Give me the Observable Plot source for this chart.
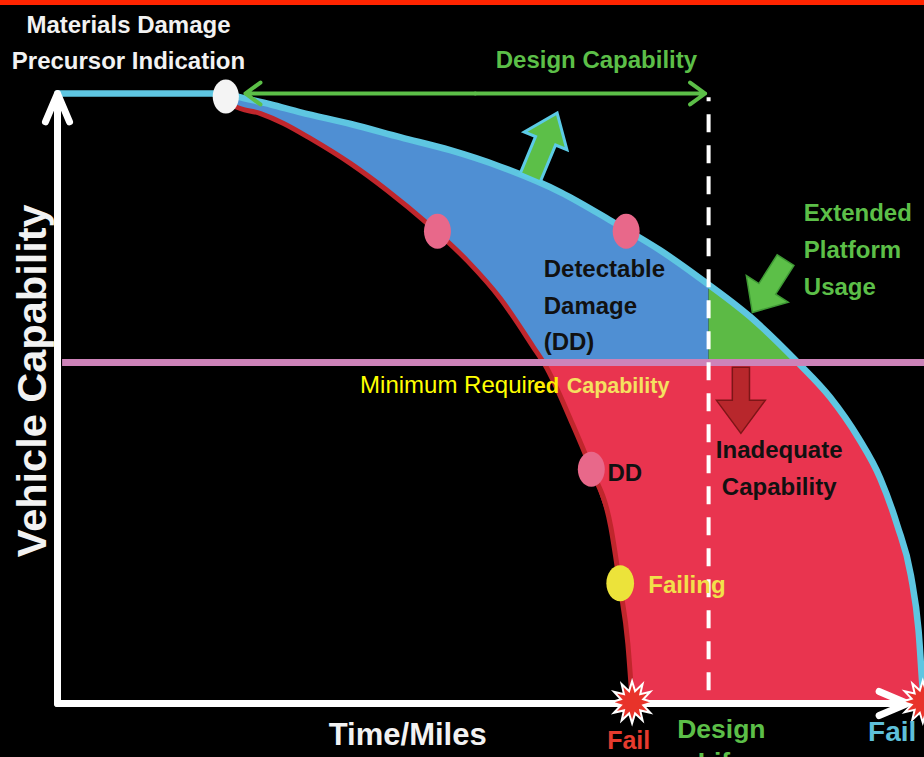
<!DOCTYPE html>
<html><head><meta charset="utf-8">
<script src="https://cdn.jsdelivr.net/npm/d3@7"></script>
<script src="https://cdn.jsdelivr.net/npm/@observablehq/plot@0.6"></script>
<style>html,body{margin:0;padding:0;background:#000;overflow:hidden}</style>
</head><body><div id="chart"></div>
<script>
// ---- data (Time/Miles 0-100, Vehicle Capability 0-100) ----
const designCurve = [[0,100],[19.8,100],[21.2,99.5],[25.1,98.2],[28.6,96.9],[34.5,95.0],[40.4,92.8],[46.2,90.7],[52.1,88.0],[59.2,83.8],[65.4,78.9],[70.9,74.3],[75.6,69.7],[81.5,63.4],[87.1,55.9],[90.9,50.2],[94.2,43.6],[96.8,36.9],[98.8,29.2],[100.4,21.0],[101.3,12.0],[101.8,2.1],[101.9,0.5]];
const actualCurve = [[19.8,99.3],[20.7,98.0],[23.9,96.7],[26.6,95.1],[29.8,92.6],[34.5,88.5],[38.8,84.1],[43.5,78.7],[48.2,72.6],[52.1,66.4],[56.0,58.4],[57.4,55.4],[60.4,46.4],[62.7,38.7],[65.1,28.9],[66.2,19.0],[67.1,9.8],[67.6,0.5]];
const minimumRequired = 55.9;
const designLife = 76.6;
const designSpan = [22.1, 76.2];
const precursorPoint = [[19.8, 99.5]];
const ddPoints = [[44.7,77.4],[66.9,77.4],[62.8,38.4]];
const failingPoint = [[66.2,19.7]];
const failPoints = [[67.6,0.2],[101.8,0.3]];
const axes = [{x1:0,y1:0,x2:0,y2:100},{x1:0,y1:0,x2:100,y2:0}];

const lblPrecursor = [{x:8.35, y:108.9, text:"Materials Damage\nPrecursor Indication"}];
const lblDesignCap = [{x:63.4, y:105.5, text:"Design Capability"}];
const lblYAxis = [{x:-2.9, y:52.9, text:"Vehicle Capability"}];
const lblXAxis = [{x:41.2, y:-5.25, text:"Time/Miles"}];
const lblDetectable = [{x:57.2, y:65.8, text:"Detectable\nDamage\n(DD)"}];
const lblExtended = [{x:87.8, y:75.0, text:"Extended\nPlatform\nUsage"}];
const lblInadequate = [{x:84.9, y:39.1, text:"Inadequate\nCapability"}];
const lblDD = [{x:64.7, y:37.8, text:"DD"}];
const lblFailing = [{x:69.5, y:19.3, text:"Failing"}];
const lblFailActual = [{x:67.2, y:-6.1, text:"Fail"}];
const lblFailDesign = [{x:98.2, y:-4.6, text:"Fail"}];
const lblDesignLife = [{x:78.1, y:-6.7, text:"Design\nLife"}];
const lblMin1 = [{x:35.6, y:52.1, text:"Minimum Requir"}];
const lblMin2 = [{x:56.0, y:52.0, text:"ed"}];
const lblMin3 = [{x:59.9, y:52.0, text:"Capability"}];
const upArrow = [[57.2, 91.5]];
const inArrow = [[83.7, 68.4]];
const downArrow = [[80.4, 49.7]];

// ---- geometry helpers ----
function clip(poly, axis, v, keepAbove) {
  const inside = p => keepAbove ? p[axis] >= v : p[axis] <= v;
  const out = [];
  for (let i = 0; i < poly.length; i++) {
    const a = poly[i], b = poly[(i + 1) % poly.length];
    const ia = inside(a), ib = inside(b);
    if (ia) out.push(a);
    if (ia !== ib) {
      const t = (v - a[axis]) / (b[axis] - a[axis]);
      out.push([a[0] + t * (b[0] - a[0]), a[1] + t * (b[1] - a[1])]);
    }
  }
  return out;
}
const band = [...designCurve.filter(d => d[0] >= 19.8), ...actualCurve.slice().reverse()];
const upper = clip(band, 1, minimumRequired, true);
const lower = clip(band, 1, minimumRequired, false);
const blueZone = clip(upper, 0, designLife, false);
const greenZone = clip(upper, 0, designLife, true);

const ellipse = {draw(ctx, size) {
  const r = Math.sqrt(size / Math.PI), rx = r * 0.77, ry = r, k = 0.5523;
  ctx.moveTo(rx, 0);
  ctx.bezierCurveTo(rx, ry * k, rx * k, ry, 0, ry);
  ctx.bezierCurveTo(-rx * k, ry, -rx, ry * k, -rx, 0);
  ctx.bezierCurveTo(-rx, -ry * k, -rx * k, -ry, 0, -ry);
  ctx.bezierCurveTo(rx * k, -ry, rx, -ry * k, rx, 0);
  ctx.closePath();
}};
const burst = {draw(ctx, size) {
  const r = Math.sqrt(size / Math.PI), n = 12;
  for (let i = 0; i < 2 * n; i++) {
    const a = i * Math.PI / n - Math.PI / 2, rr = i % 2 ? r * 0.55 : r;
    const px = rr * Math.cos(a), py = rr * Math.sin(a);
    i ? ctx.lineTo(px, py) : ctx.moveTo(px, py);
  }
  ctx.closePath();
}};
function blockArrow(angle, headBase, headHalf, shaftHalf) {
  const t = angle * Math.PI / 180, c = Math.cos(t), s = Math.sin(t);
  const pts = [[0,-1],[headHalf,headBase],[shaftHalf,headBase],[shaftHalf,1],[-shaftHalf,1],[-shaftHalf,headBase],[-headHalf,headBase]];
  return {draw(ctx, size) {
    const r = Math.sqrt(size / Math.PI);
    pts.forEach(([x, y], i) => {
      const X = r * (x * c - y * s), Y = r * (x * s + y * c);
      i ? ctx.lineTo(X, Y) : ctx.moveTo(X, Y);
    });
    ctx.closePath();
  }};
}

const sans = '"Liberation Sans",Arial,Helvetica,sans-serif';
const P = {x: d => d[0], y: d => d[1]};
const T = {x: "x", y: "y", text: "text", fontFamily: sans};
const B = {...T, fontWeight: "bold"};

const chart = Plot.plot({
  width: 924, height: 757,
  marginLeft: 57, marginRight: 17, marginTop: 93, marginBottom: 54,
  x: {domain: [0, 100], axis: null},
  y: {domain: [0, 100], axis: null},
  style: {background: "#000"},
  marks: [
    Plot.ruleY([114.9], {x1: -7, x2: 103, stroke: "#ff2400", strokeWidth: 5}),
    Plot.line(blueZone, {...P, fill: "#4f8fd3", stroke: "none"}),
    Plot.line(greenZone, {...P, fill: "#5cba45", stroke: "none"}),
    Plot.line(lower, {...P, fill: "#e9344f", stroke: "none"}),
    Plot.line(actualCurve, {...P, stroke: "#c0262c", strokeWidth: 5, curve: "monotone-x"}),
    Plot.line(designCurve, {...P, stroke: "#5ec6e1", strokeWidth: 6.5, curve: "monotone-x"}),
    Plot.ruleY([minimumRequired], {x1: 0.6, x2: 102.5, stroke: "#cd83b9", strokeWidth: 7}),
    Plot.ruleX([designLife], {y1: 2.1, y2: 99.3, stroke: "white", strokeWidth: 4, strokeDasharray: "18,13"}),
    Plot.arrow(axes, {x1: "x1", y1: "y1", x2: "x2", y2: "y2", stroke: "white", strokeWidth: 7, headLength: 6.6, headAngle: 46}),
    Plot.arrow([{a: d3.mean(designSpan), b: designSpan[0]}, {a: d3.mean(designSpan), b: designSpan[1]}],
      {x1: "a", x2: "b", y1: () => 100, y2: () => 100, stroke: "#5cbf48", strokeWidth: 4, headLength: 7, headAngle: 72}),
    Plot.dot(upArrow, {...P, r: 35, symbol: blockArrow(22.6, -0.14, 0.66, 0.31), fill: "#5cbf48", stroke: "#5ccbe6", strokeWidth: 3}),
    Plot.dot(inArrow, {...P, r: 31, symbol: blockArrow(212.4, -0.1, 0.8, 0.32), fill: "#5cbf48", stroke: "#3f9a35", strokeWidth: 1.5}),
    Plot.dot(downArrow, {...P, r: 33, symbol: blockArrow(180, 0.0, 0.74, 0.26), fill: "#b8272c", stroke: "#7d1517", strokeWidth: 1.5}),
    Plot.dot(precursorPoint, {...P, r: 17, symbol: ellipse, fill: "#f4f4f4", stroke: "none"}),
    Plot.dot(ddPoints, {...P, r: 17.5, symbol: ellipse, fill: "#e8688a", stroke: "none"}),
    Plot.dot(failingPoint, {...P, r: 18, symbol: ellipse, fill: "#ece33a", stroke: "none"}),
    Plot.dot(failPoints, {...P, r: 21, symbol: burst, fill: "#e8332a", stroke: "white", strokeWidth: 2}),
    Plot.text(lblPrecursor, {...B, fill: "#f2f2f2", fontSize: 24, lineHeight: 1.5}),
    Plot.text(lblDesignCap, {...B, fill: "#5cbf48", fontSize: 24}),
    Plot.text(lblYAxis, {...B, fill: "#f2f2f2", fontSize: 41.5, rotate: -90}),
    Plot.text(lblXAxis, {...B, fill: "#f2f2f2", fontSize: 31}),
    Plot.text(lblDetectable, {...B, fill: "#111", fontSize: 24, lineHeight: 1.52, textAnchor: "start"}),
    Plot.text(lblExtended, {...B, fill: "#5cbf48", fontSize: 24, lineHeight: 1.56, textAnchor: "start"}),
    Plot.text(lblInadequate, {...B, fill: "#111", fontSize: 24, lineHeight: 1.54}),
    Plot.text(lblDD, {...B, fill: "#111", fontSize: 24, textAnchor: "start"}),
    Plot.text(lblFailing, {...B, fill: "#f2e04a", fontSize: 24, textAnchor: "start"}),
    Plot.text(lblFailActual, {...B, fill: "#e63b2e", fontSize: 25}),
    Plot.text(lblFailDesign, {...B, fill: "#5ec0da", fontSize: 28}),
    Plot.text(lblDesignLife, {...B, fill: "#5cbf48", fontSize: 26.5, lineHeight: 1.24}),
    Plot.text(lblMin1, {...T, fill: "#ffff00", fontSize: 24, textAnchor: "start"}),
    Plot.text(lblMin2, {...B, fill: "#ffee00", fontSize: 22, textAnchor: "start"}),
    Plot.text(lblMin3, {...B, fill: "#f5e060", fontSize: 21.5, textAnchor: "start"})
  ]
});
document.getElementById("chart").append(chart);
</script>
</body></html>
